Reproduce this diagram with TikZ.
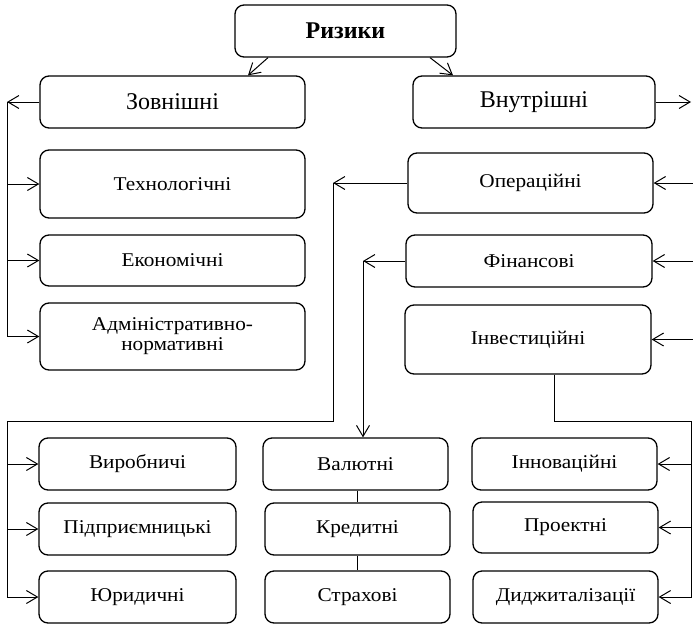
\documentclass[tikz,border=0pt]{standalone}
\usepackage{fontspec}
\setmainfont{Liberation Serif}
\newfontfamily\widefont[FakeStretch=1.09]{Liberation Serif}
\usetikzlibrary{arrows.meta,calc}
\tikzset{
  box/.style={draw, line width=1.3pt, rounded corners=9pt, rectangle, inner sep=0pt, align=center},
  bigbox/.style={box, font=\fontsize{24}{26}\selectfont},
  smallbox/.style={box, font=\widefont\fontsize{19.5}{20}\selectfont},
  arr/.style={line width=1pt, -{Straight Barb[length=11pt,width=13pt,line width=1pt]}},
  ln/.style={line width=1pt},
}
\begin{document}
\begin{tikzpicture}[x=1pt,y=-1pt]
\useasboundingbox (0,0) rectangle (693,624);
% top level
\node[bigbox, minimum width=221pt, minimum height=52pt] (riz) at (345.5,31) {\textbf{Ризики}};
\node[bigbox, minimum width=265pt, minimum height=52pt] (zov) at (172.5,102) {Зовнішні};
\node[bigbox, minimum width=242pt, minimum height=52pt] (vnu) at (534,102) {Внутрішні};
% external
\node[smallbox, minimum width=265pt, minimum height=68pt] (tech) at (172.5,184) {Технологічні};
\node[smallbox, minimum width=265pt, minimum height=51pt] (eko) at (172.5,260.5) {Економічні};
\node[smallbox, minimum width=265pt, minimum height=67pt] (adm) at (172.5,336.5) {Адміністративно-\\нормативні};
% internal
\node[smallbox, minimum width=245pt, minimum height=60pt] (oper) at (530.5,183) {Операційні};
\node[smallbox, minimum width=246pt, minimum height=52pt] (fin) at (529,261) {Фінансові};
\node[smallbox, minimum width=246pt, minimum height=69pt] (inv) at (528,339.5) {Інвестиційні};
% bottom left
\node[smallbox, minimum width=197pt, minimum height=52pt] (vyr) at (137.5,464) {Виробничі};
\node[smallbox, minimum width=197pt, minimum height=52pt] (pid) at (137.5,529) {Підприємницькі};
\node[smallbox, minimum width=197pt, minimum height=52pt] (yur) at (137.5,597) {Юридичні};
% bottom middle
\node[smallbox, minimum width=185pt, minimum height=52pt] (val) at (355.5,464) {Валютні};
\node[smallbox, minimum width=185pt, minimum height=52pt] (kred) at (357.5,529) {Кредитні};
\node[smallbox, minimum width=185pt, minimum height=52pt] (strakh) at (357.5,597) {Страхові};
% bottom right
\node[smallbox, minimum width=185pt, minimum height=52pt] (inn) at (564.5,464) {Інноваційні};
\node[smallbox, minimum width=185pt, minimum height=51pt] (proj) at (565.5,527.5) {Проектні};
\node[smallbox, minimum width=185pt, minimum height=52pt] (didzh) at (565.5,597) {Диджиталізації};
% coordinates
\coordinate (L1) at (7,102);
\coordinate (R1) at (691,102);
\coordinate (R1v) at (694.5,102);
\coordinate (OP) at (333,183);
\coordinate (OPb) at (333,421);
\coordinate (L2) at (7,421);
\coordinate (FI) at (363,261);
\coordinate (IVb) at (554,421);
\coordinate (R2) at (691.5,421);
% top arrows
\draw[arr] ([xshift=-77.5pt]riz.south) -- ([xshift=75.5pt]zov.north);
\draw[arr] ([xshift=84.5pt]riz.south) -- ([xshift=-81pt]vnu.north);
% external branch
\draw[arr] (zov.west) -- (L1);
\draw[ln] (L1) -- (L1 |- adm.west);
\draw[arr] (L1 |- tech.west) -- (tech.west);
\draw[arr] (L1 |- eko.west) -- (eko.west);
\draw[arr] (L1 |- adm.west) -- (adm.west);
% internal branch
\draw[arr] (vnu.east) -- (R1);
\draw[ln] (R1v) -- (R1v |- inv.east);
\draw[arr] (R1v |- oper.east) -- (oper.east);
\draw[arr] (R1v |- fin.east) -- (fin.east);
\draw[arr] (R1v |- inv.east) -- (inv.east);
% operational
\draw[arr] (oper.west) -- (OP);
\draw[ln] (OP) -- (OPb) -- (L2) -- (L2 |- yur.west);
\draw[arr] (L2 |- vyr.west) -- (vyr.west);
\draw[arr] (L2 |- pid.west) -- (pid.west);
\draw[arr] (L2 |- yur.west) -- (yur.west);
% financial
\draw[arr] (fin.west) -- (FI);
\draw[arr] (FI) -- (FI |- val.north);
\draw[ln] ([xshift=1.5pt]val.south) -- ([xshift=-0.5pt]kred.north);
\draw[ln] ([xshift=-0.5pt]kred.south) -- ([xshift=-0.5pt]strakh.north);
% investment
\draw[ln] (inv.south -| IVb) -- (IVb) -- (R2) -- (R2 |- didzh.east);
\draw[arr] (R2 |- inn.east) -- (inn.east);
\draw[arr] (R2 |- proj.east) -- (proj.east);
\draw[arr] (R2 |- didzh.east) -- (didzh.east);
\end{tikzpicture}
\end{document}
